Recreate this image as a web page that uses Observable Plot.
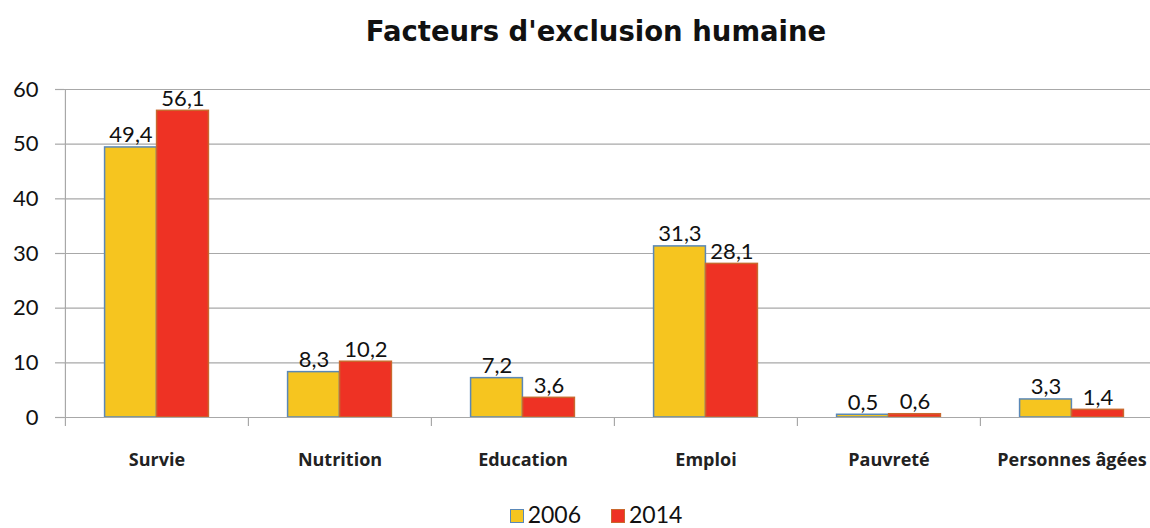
<!DOCTYPE html>
<html>
<head>
<meta charset="utf-8">
<script src="https://cdn.jsdelivr.net/npm/d3@7"></script>
<script src="https://cdn.jsdelivr.net/npm/@observablehq/plot@0.6"></script>
<style>
  html, body { margin: 0; padding: 0; background: #fff; overflow: hidden; }
  #title { height: 62px; display: flex; align-items: center; justify-content: center;
           font-family: "DejaVu Sans", sans-serif; font-weight: bold; font-size: 27.5px; color: #111; padding-left: 42px; box-sizing: border-box; }
  #legend { display: flex; justify-content: center; align-items: center; gap: 30px; padding-left: 42px;
            font-family: Lato, sans-serif; font-size: 23px; color: #111; height: 28px; }
  #legend .item { display: flex; align-items: center; gap: 4px; }
  #legend .sw { width: 14px; height: 14px; box-sizing: border-box; border: 1.5px solid; margin-top: 3px; }
</style>
</head>
<body>
<div id="title">Facteurs d'exclusion humaine</div>
<div id="chart"></div>
<div id="legend"></div>
<script>
const categories = ["Survie", "Nutrition", "Education", "Emploi", "Pauvreté", "Personnes âgées"];
const values2006 = [49.4, 8.3, 7.2, 31.3, 0.5, 3.3];
const values2014 = [56.1, 10.2, 3.6, 28.1, 0.6, 1.4];
const years = ["2006", "2014"];
const yTicks = [0, 10, 20, 30, 40, 50, 60];

const fills = ["#F6C51F", "#EE3224"];
const strokes = ["#5A88B8", "#C9682E"];

const data = categories.flatMap((c, i) => [
  {cat: c, year: years[0], value: values2006[i]},
  {cat: c, year: years[1], value: values2014[i]}
]);
const d06 = data.filter(d => d.year === years[0]);
const d14 = data.filter(d => d.year === years[1]);
const fmt = v => d3.format(".1f")(v).replace(".", ",");

const left = 64, right = 1163;
const half = (right - left) / categories.length / 2;
const barW = 52;
const font = "Lato, sans-serif";

const chart = Plot.plot({
  width: 1150,
  height: 438,
  marginTop: 27,
  marginBottom: 83,
  marginLeft: left,
  marginRight: 0,
  style: {fontFamily: font, background: "#fff", overflow: "visible"},
  x: {domain: categories, range: [left, right], padding: 0, axis: null},
  y: {domain: [0, 60], axis: null},
  color: {domain: years, range: fills},
  marks: [
    Plot.gridY(yTicks, {stroke: "#a8a8a8", strokeOpacity: 1, strokeWidth: 1.2}),
    Plot.axisY(yTicks, {tickSize: 9, tickPadding: 17, fontSize: 22, stroke: "#a8a8a8", color: "#111", strokeWidth: 1.2, label: null}),
    Plot.ruleX(categories.slice(0, 1), {x: d => d, dx: -half, y1: 0, y2: 60, stroke: "#a8a8a8", strokeWidth: 1.2}),
    Plot.axisX(categories, {tickSize: 9, dx: -half, text: null, stroke: "#a8a8a8", strokeWidth: 1.2, label: null}),
    Plot.axisX(categories, {tickSize: 0, tickPadding: 36, fontSize: 18, fontWeight: "bold", fill: "#222",
                            fontFamily: "'Open Sans', sans-serif", label: null}),
    Plot.barY(d06, {x: "cat", y: "value", fill: "year", stroke: strokes[0], strokeWidth: 1.5,
                    insetLeft: half - barW, insetRight: half}),
    Plot.barY(d14, {x: "cat", y: "value", fill: "year", stroke: strokes[1], strokeWidth: 1.5,
                    insetLeft: half, insetRight: half - barW}),
    Plot.ruleY([0], {stroke: "#a8a8a8", strokeWidth: 1.2}),
    Plot.text(d06, {x: "cat", y: "value", text: d => fmt(d.value), dx: -barW / 2, dy: -5,
                    lineAnchor: "bottom", fontSize: 22, fill: "#111"}),
    Plot.text(d14, {x: "cat", y: "value", text: d => fmt(d.value), dx: barW / 2, dy: -5,
                    lineAnchor: "bottom", fontSize: 22, fill: "#111"})
  ]
});
document.getElementById("chart").appendChild(chart);

const legend = document.getElementById("legend");
years.forEach((y, i) => {
  const item = document.createElement("div");
  item.className = "item";
  const sw = document.createElement("div");
  sw.className = "sw";
  sw.style.background = fills[i];
  sw.style.borderColor = strokes[i];
  const t = document.createElement("span");
  t.textContent = y;
  item.appendChild(sw);
  item.appendChild(t);
  legend.appendChild(item);
});
</script>
</body>
</html>
